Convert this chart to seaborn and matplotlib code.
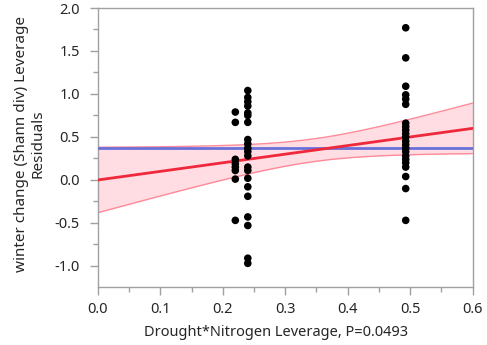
import numpy as np
import pandas as pd
import matplotlib
matplotlib.use("Agg")
import matplotlib.pyplot as plt
import seaborn as sns
from matplotlib.ticker import MultipleLocator

# leverage values (x) of the three groups
x_groups = [0.22, 0.24, 0.493]
# leverage residuals
y_022 = [0.79, 0.67, 0.24, 0.19, 0.15, 0.11, 0.01, -0.47]
y_024 = [1.04, 0.96, 0.91, 0.86, 0.78, 0.75, 0.67, 0.47, 0.42, 0.37, 0.33,
         0.28, 0.15, 0.11, 0.02, -0.08, -0.19, -0.43, -0.53, -0.91, -0.97]
y_049 = [1.77, 1.42, 1.09, 0.99, 0.94, 0.88, 0.66, 0.62, 0.58, 0.54, 0.50,
         0.45, 0.41, 0.37, 0.33, 0.28, 0.24, 0.20, 0.15, 0.04, -0.10, -0.47]

# fitted leverage line, mean line and model RMSE
fit_intercept = 0.0
fit_slope = 1.0
mean_level = 0.37
model_rmse = 0.47

x_ticks = [0.0, 0.1, 0.2, 0.3, 0.4, 0.5, 0.6]
y_ticks = [-1.0, -0.5, 0.0, 0.5, 1.0, 1.5, 2.0]

xs = np.concatenate([[x_groups[0]] * len(y_022), [x_groups[1]] * len(y_024),
                     [x_groups[2]] * len(y_049)])
ys = np.concatenate([y_022, y_024, y_049])
df = pd.DataFrame({"x": xs, "y": ys})

sns.set_style("white")
plt.rcParams["font.family"] = ["Noto Sans", "DejaVu Sans"]

fig = plt.figure(figsize=(4.87, 3.45), dpi=100)
ax = fig.add_axes([98 / 487, 1 - 287 / 345, (472.5 - 98) / 487, (287 - 8) / 345])

# 95% confidence curves of the line
n = len(xs)
xbar = xs.mean()
sxx = np.sum((xs - xbar) ** 2)
xg = np.linspace(0, 0.6, 200)
fit = fit_intercept + fit_slope * xg
hw = 2.01 * model_rmse * np.sqrt(1 / n + (xg - xbar) ** 2 / sxx)

ax.fill_between(xg, fit - hw, fit + hw, color="#ffdde3", lw=0, zorder=1)
ax.plot(xg, fit + hw, color="#ff8a9a", lw=1, zorder=2)
ax.plot(xg, fit - hw, color="#ff8a9a", lw=1, zorder=2)
ax.axhline(mean_level, color="#6b70d8", lw=2, zorder=3)
ax.plot(xg, fit, color="#f0283c", lw=2, zorder=4)

sns.scatterplot(data=df, x="x", y="y", ax=ax, color="black", s=30,
                edgecolor="none", zorder=5, legend=False)

ax.set_xlim(0, 0.6)
ax.set_ylim(-1.245, 2.0)
ax.set_xticks(x_ticks)
ax.set_yticks(y_ticks)
ax.set_xticklabels([f"{v:.1f}" for v in x_ticks])
ax.set_yticklabels([f"{v:.1f}" for v in y_ticks])
ax.xaxis.set_minor_locator(MultipleLocator(0.05))
ax.yaxis.set_minor_locator(MultipleLocator(0.25))
ax.tick_params(which="major", direction="out", length=6, width=1,
               color="#a0a0a0", labelsize=10.5, pad=5, bottom=True, left=True)
ax.tick_params(axis="y", which="major", pad=7)
ax.tick_params(which="minor", direction="out", length=3.5, width=1,
               color="#a0a0a0", bottom=True, left=True)
for sp in ax.spines.values():
    sp.set_color("#a0a0a0")
    sp.set_linewidth(1)

ax.set_xlabel("Drought*Nitrogen Leverage, P=0.0493", fontsize=10.5, labelpad=3)
ax.set_ylabel("winter change (Shann div) Leverage\nResiduals", fontsize=11,
              linespacing=1.15)
ax.yaxis.set_label_coords(-0.139, 0.514)
ax.xaxis.set_label_coords(0.475, -0.135)

fig.savefig("out.png", dpi=100)
